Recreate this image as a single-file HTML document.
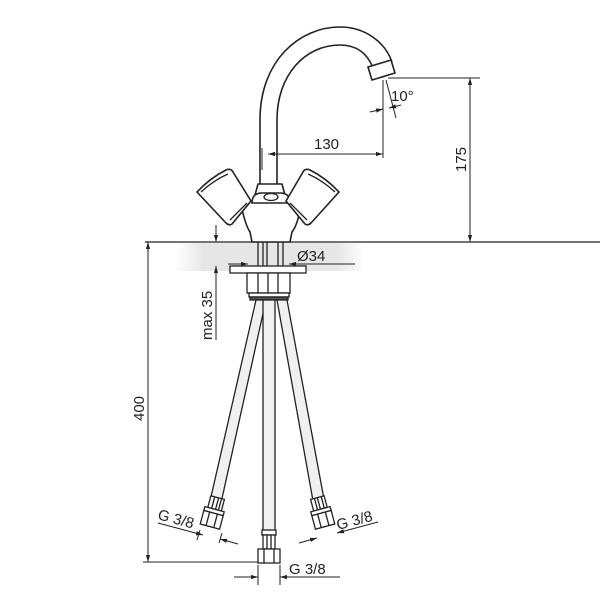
<!DOCTYPE html>
<html><head><style>body{margin:0;background:#fff}svg{display:block}text{font-family:"Liberation Sans",sans-serif;font-size:15px;fill:#222}</style></head><body>
<svg width="600" height="600" viewBox="0 0 600 600">
<defs>
<linearGradient id="g" x1="0" x2="1"><stop offset="0" stop-color="#fff"/><stop offset=".15" stop-color="#e6e6e6"/><stop offset=".85" stop-color="#e6e6e6"/><stop offset="1" stop-color="#fff"/></linearGradient>
<marker id="a" viewBox="0 0 10 10" refX="10" refY="5" markerWidth="7" markerHeight="7" orient="auto-start-reverse"><path d="M0,2L10,5L0,8z" fill="#222"/></marker>
</defs>
<rect x="175" y="243" width="190" height="28" fill="url(#g)"/>
<g stroke="#222" stroke-width="1.3" fill="none">
<line x1="145" y1="242" x2="600" y2="242"/>
<path d="M260,185 L260,120 C260,60 300,27 340,27 C365,27 385,42 392,62" fill="#fff" stroke-width="1.6"/>
<path d="M277,185 L277,120 C277,75 305,45 340,45 C358,45 368,55 373,68" fill="#fff" stroke-width="1.6"/>
<path d="M368,67 L391,60 L395,73 L372,80 Z" fill="#fff" stroke-width="1.6"/>
<path d="M240,200 Q245,225 250,232 L252,242 L290,242 L292,232 Q298,225 302,200" fill="#fff" stroke-width="1.6"/>
<path d="M255,195 L258,184 L282,184 L285,195 Z" fill="#fff" stroke-width="1.6"/>
<path d="M252,203 Q252,193 262,193 L280,193 Q290,193 290,203 Z" fill="#fff" stroke-width="1.6"/>
<ellipse cx="271" cy="197" rx="7" ry="3.5"/>
<path d="M197,192 Q210,178 226,170 Q231,168 233,172 L251,201 L232,224 Q229,226 226,223 Z" fill="#fff" stroke-width="1.6"/>
<path d="M201,192 Q214,180 228,174 M230,220 L247,203"/>
<path d="M339,192 Q326,178 310,170 Q305,168 303,172 L286,201 L305,224 Q308,226 311,223 Z" fill="#fff" stroke-width="1.6"/>
<path d="M335,192 Q322,180 308,174 M307,220 L290,203"/>
<path d="M258,242 V266 M263,242 V266 M267,242 V266 M278,242 V266 M283,242 V266"/>
<rect x="230" y="266" width="76" height="7" fill="#fff"/>
<rect x="247" y="273" width="43" height="20" fill="#fff"/>
<path d="M258,273V293 M268,273V293 M278,273V293"/>
<rect x="249" y="293" width="40" height="4" fill="#fff"/>
<rect x="250" y="297" width="38" height="3" fill="#555"/>
<path d="M256,300 L208,510 L219,512 L266,300 Z" fill="#f0f0f0"/>
<path d="M277,300 L315,512 L326,510 L287,300 Z" fill="#f0f0f0"/>
<rect x="263" y="300" width="12" height="232" fill="#f0f0f0"/>
<g transform="rotate(15 213 515)">
<rect x="206" y="497" width="14" height="12" fill="#fff"/>
<path d="M210,497V509 M214,497V509 M217,497V509"/>
<rect x="203" y="509" width="20" height="4" fill="#fff"/>
<rect x="203" y="513" width="20" height="14" fill="#fff"/>
<path d="M209,513V527 M217,513V527"/>
</g>
<g transform="rotate(-15 322 515)">
<rect x="315" y="497" width="14" height="12" fill="#fff"/>
<path d="M319,497V509 M322,497V509 M326,497V509"/>
<rect x="312" y="509" width="20" height="4" fill="#fff"/>
<rect x="312" y="513" width="20" height="14" fill="#fff"/>
<path d="M318,513V527 M326,513V527"/>
</g>
<rect x="262" y="530" width="14" height="5" fill="#fff"/>
<rect x="263" y="535" width="12" height="14" fill="#fff"/>
<path d="M267,535V549 M271,535V549"/>
<rect x="258" y="549" width="22" height="14" fill="#fff"/>
<path d="M264,549V563 M274,549V563"/>
</g>
<g stroke="#222" stroke-width="1" fill="none">
<line x1="262" y1="148" x2="262" y2="170"/>
<line x1="268" y1="154" x2="383" y2="154" marker-start="url(#a)" marker-end="url(#a)"/>
<line x1="383" y1="80" x2="383" y2="158"/>
<line x1="388" y1="78" x2="480" y2="78"/>
<line x1="470" y1="78" x2="470" y2="242" marker-start="url(#a)" marker-end="url(#a)"/>
<line x1="386" y1="80" x2="396" y2="118"/>
<line x1="370" y1="112" x2="383" y2="109" marker-end="url(#a)"/>
<line x1="401" y1="105" x2="389" y2="108" marker-end="url(#a)"/>
<line x1="228" y1="264" x2="248" y2="264" marker-end="url(#a)"/>
<line x1="355" y1="264" x2="289" y2="264" marker-end="url(#a)"/>
<line x1="216" y1="225" x2="216" y2="242" marker-end="url(#a)"/>
<line x1="216" y1="340" x2="216" y2="266" marker-end="url(#a)"/>
<line x1="143" y1="562" x2="258" y2="562"/>
<line x1="148" y1="242" x2="148" y2="562" marker-start="url(#a)" marker-end="url(#a)"/>
<line x1="258" y1="565" x2="258" y2="585"/>
<line x1="280" y1="565" x2="280" y2="585"/>
<line x1="234" y1="577" x2="258" y2="577" marker-end="url(#a)"/>
<line x1="340" y1="577" x2="280" y2="577" marker-end="url(#a)"/>
<line x1="158" y1="523" x2="203" y2="535" marker-end="url(#a)"/>
<line x1="238" y1="544" x2="220" y2="539" marker-end="url(#a)"/>
<line x1="200" y1="530" x2="197" y2="540"/><line x1="222" y1="533" x2="219" y2="543"/>
<line x1="299" y1="543" x2="317" y2="538" marker-end="url(#a)"/>
<line x1="378" y1="522" x2="337" y2="533" marker-end="url(#a)"/>
</g>
<text x="314" y="149">130</text>
<text x="391" y="101">10°</text>
<text transform="translate(466,172) rotate(-90)">175</text>
<text x="297" y="261">Ø34</text>
<text transform="translate(212,340) rotate(-90)">max 35</text>
<text transform="translate(144,421) rotate(-90)">400</text>
<text x="289" y="574">G 3/8</text>
<text transform="translate(157,519) rotate(15)">G 3/8</text>
<text transform="translate(338,530) rotate(-15)">G 3/8</text>
</svg>
</body></html>
